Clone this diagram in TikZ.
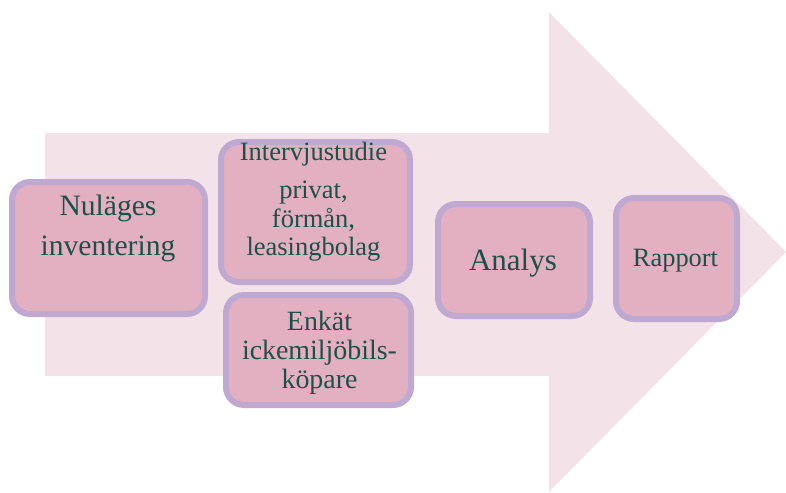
\documentclass[tikz,border=0pt]{standalone}
\usepackage{fontspec}
\setmainfont{Liberation Serif}
\definecolor{bgarrow}{HTML}{F4E2E9}
\definecolor{boxfill}{HTML}{E3B0C1}
\definecolor{boxline}{HTML}{BFA9D1}
\definecolor{txt}{HTML}{1E5048}
\begin{document}
\begin{tikzpicture}[x=1pt,y=-1pt,
  stepbox/.style={draw=boxline, fill=boxfill, line width=6pt, rounded corners=18pt, inner sep=0pt},
  lbl/.style={anchor=base, inner sep=0pt, text=txt}]
\useasboundingbox (0,0) rectangle (786,492);
\fill[bgarrow] (45,133) -- (549,133) -- (549,12) -- (786,252) -- (549,492) -- (549,376) -- (45,376) -- cycle;

\node[stepbox, minimum width=193pt, minimum height=132pt] (b1) at (108.5,248) {};
\node[stepbox, minimum width=189pt, minimum height=140pt] (b2) at (315.5,212) {};
\node[stepbox, minimum width=185pt, minimum height=110pt] (b3) at (318.5,350) {};
\node[stepbox, minimum width=152pt, minimum height=112pt] (b4) at (514,260) {};
\node[stepbox, minimum width=121pt, minimum height=121pt] (b5) at (676.5,258.5) {};

\node[lbl, font=\fontsize{29.6}{34}\selectfont] (t1a) at (108,215) {Nuläges};
\node[lbl, font=\fontsize{29.6}{34}\selectfont] (t1b) at (108,255) {inventering};

\node[lbl, font=\fontsize{26.5}{30}\selectfont] (t2a) at (313.5,160) {Intervjustudie};
\node[lbl, font=\fontsize{26.5}{30}\selectfont] (t2b) at (313.5,198) {privat,};
\node[lbl, font=\fontsize{26.5}{30}\selectfont] (t2c) at (313.5,227) {förmån,};
\node[lbl, font=\fontsize{26.5}{30}\selectfont] (t2d) at (313.5,255) {leasingbolag};

\node[lbl, font=\fontsize{27.9}{32}\selectfont] (t3a) at (319.5,330.5) {Enkät};
\node[lbl, font=\fontsize{27.9}{32}\selectfont] (t3b) at (319.5,359) {ickemiljöbils-};
\node[lbl, font=\fontsize{27.9}{32}\selectfont] (t3c) at (319.5,388) {köpare};

\node[lbl, font=\fontsize{31}{36}\selectfont] (t4) at (513,270) {Analys};
\node[lbl, font=\fontsize{26.4}{30}\selectfont] (t5) at (675.5,266.7) {Rapport};
\end{tikzpicture}
\end{document}
